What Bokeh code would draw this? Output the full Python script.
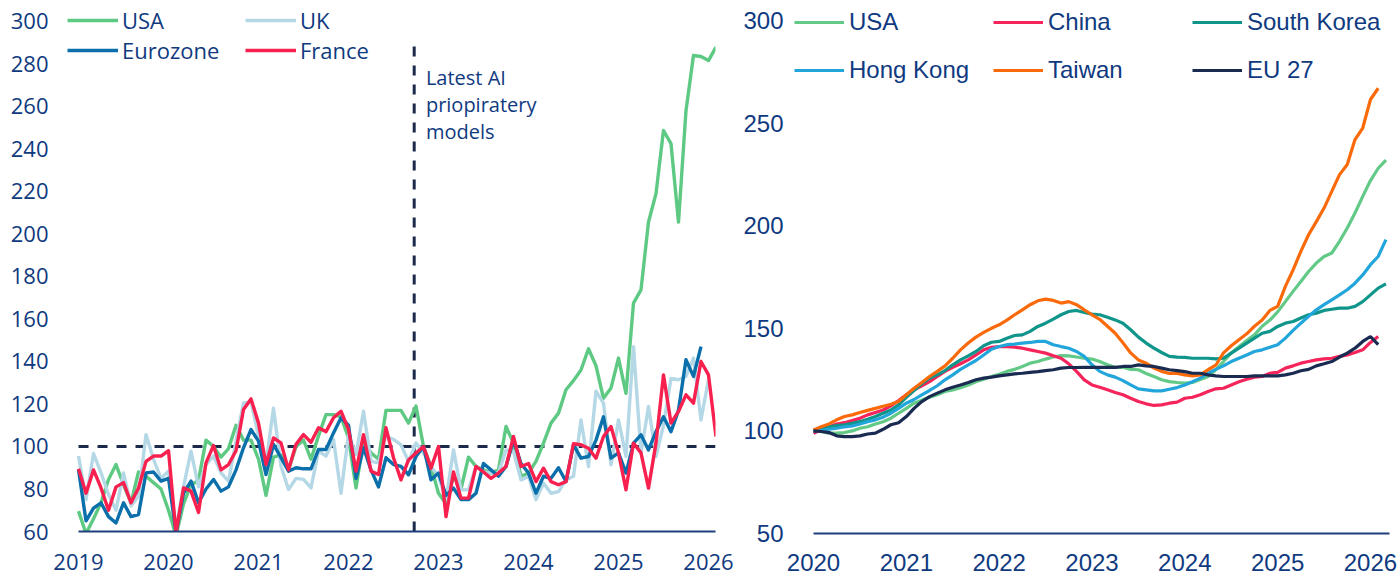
from bokeh.plotting import figure
from bokeh.layouts import row
from bokeh.models import Legend, LegendItem, Label, FixedTicker, Range1d
from bokeh.embed import file_html
from bokeh.resources import INLINE

# ---------------- data: left panel (monthly, from Jan 2019) ----------------
left_start = 2019
left_end = 2026.078
left_years = [2019, 2020, 2021, 2022, 2023, 2024, 2025, 2026]
left_year_labels = ["2019", "2020", "2021", "2022", "2023", "2024", "2025", "2026"]
left_yticks = [60, 80, 100, 120, 140, 160, 180, 200, 220, 240, 260, 280, 300]

usa_l = [69.6, 59, 66, 73.5, 84.5, 91.5, 82, 73.5, 88, 86,
         83, 80, 70, 58, 73, 82, 84, 103, 100, 95,
         99, 110, 103, 103, 94, 77, 95, 96, 89, 100,
         103, 94, 105, 115, 115, 114, 104, 80.5, 103, 97,
         94, 117, 117, 117, 111, 119, 100, 90.6, 78, 73,
         86, 80, 95, 90.6, 89, 87.5, 89, 109.4, 101.6, 86,
         87.5, 93, 101.6, 111, 115.7, 126.7, 131, 136, 146, 138,
         122.7, 127.5, 141.6, 125, 167.5, 173.7, 205.6, 219, 248.7, 242.5,
         205.6, 258, 284, 283.5, 281.6, 288]
uk_l = [95.5, 75, 96.7, 87.6, 77.4, 70, 87.6, 72, 76.6, 105.6,
        94, 85, 88.4, 61, 81, 97.8, 81, 91.5, 95.5, 87.6,
        83.7, 102.5, 120.5, 121, 105, 92.3, 118, 90.7, 79.8, 85,
        84.5, 80.5, 97.8, 95.5, 103.3, 78, 105.6, 96.2, 116.6, 93,
        92.3, 104.9, 103.3, 100.8, 93, 101.6, 97, 90.6, 86, 75,
        98.4, 79.6, 79.6, 90.6, 88, 87.5, 87.5, 98.4, 97.6, 84.3,
        86, 75, 82.7, 78, 78.8, 84.3, 86, 112.5, 90.6, 126,
        120.4, 91.4, 112.5, 95.3, 147, 97, 118.8, 95.3, 110, 132,
        131.4, 133, 141.6, 112.5, 131.4]
euro_l = [89, 65, 71, 73.5, 67, 64, 73.5, 67, 68, 87.6,
          88, 83.7, 85, 59.4, 78, 83.7, 73.5, 80, 84.5, 79,
          81, 89, 99.4, 108, 102.5, 86.8, 101, 94.7, 88.4, 90,
          89.5, 89.5, 98.6, 98.6, 106.4, 113.5, 110, 85, 99.4, 89,
          81, 94.7, 91.5, 90.6, 86.7, 95.3, 100, 84.3, 87.5, 77,
          80.4, 75, 75, 78, 92, 89, 86, 90.6, 103, 92,
          87.5, 78, 86, 85, 90, 83.5, 100.8, 94.5, 95.3, 103,
          114, 94.5, 97, 87.5, 101.6, 105.5, 98.4, 107, 114, 107,
          117, 140.8, 133, 147]
france_l = [89.5, 78, 89, 80.5, 70, 81, 83, 73.5, 80.5, 93,
            95.5, 95.5, 98, 59.4, 80.5, 79, 69, 92.3, 100.5, 89,
            91.5, 98, 117.4, 122.4, 111, 91.5, 104, 101.7, 89, 101,
            105.6, 102, 108.8, 107, 113.5, 116.6, 108, 88.4, 105.6, 88.4,
            86.8, 108.8, 94.7, 84.3, 93.7, 96.9, 100, 89.8, 100, 67,
            88, 75.7, 75.7, 90.6, 88, 85, 87.5, 90.6, 104.7, 90.6,
            92, 83.5, 89.8, 83.5, 82, 83.5, 101.3, 100.8, 99.2, 94.5,
            104.7, 109.4, 97, 79.6, 101.6, 97, 80.4, 101.6, 133.7, 111,
            116.5, 124.3, 120.4, 140, 133.7, 104.7]
baseline_level = 100
ai_release = 2022.73
ai_line_top = 290
annotation_text = "Latest AI\npriopiratery\nmodels"

# ---------------- data: right panel (monthly, from Jan 2020) ----------------
right_start = 2020
right_end = 2026.205
right_years = [2020, 2021, 2022, 2023, 2024, 2025, 2026]
right_year_labels = ["2020", "2021", "2022", "2023", "2024", "2025", "2026"]
right_yticks = [50, 100, 150, 200, 250, 300]

usa_r = [100, 99.7, 98.9, 98.9, 99.2, 100, 101.3, 102, 103.4, 104.5,
         106.2, 108.6, 111, 113.5, 115, 116.4, 117.6, 119.2, 120, 121,
         122.4, 124, 125.2, 126.5, 127.6, 129, 130, 131.4, 133, 133.8,
         135, 136, 136.7, 136.6, 136, 135.4, 135, 133.8, 132.2, 131,
         131, 130, 129.8, 128, 126.5, 124.9, 124, 123.6, 123.3, 123.6,
         125, 126.5, 129.8, 133.8, 138, 141, 144, 146.8, 151, 154,
         158, 163, 168, 172.8, 177.7, 181.8, 185, 186.7, 192.4, 198.9,
         206.2, 214.3, 222, 228, 232]
china_r = [98.9, 100.5, 102, 103.3, 104, 105, 106.2, 107.8, 109, 110.2,
           112.2, 114.8, 117.6, 120, 122, 124, 126.5, 129, 131, 132.7,
           134.6, 137, 139.5, 140.7, 141.1, 141.1, 140.8, 140.3, 139.5, 138.7,
           137.9, 136.6, 135.4, 132.7, 129, 124.9, 122.4, 121.3, 120, 118.7,
           117.6, 115.9, 114.3, 113.2, 112.4, 112.7, 113.5, 114, 115.9, 116.4,
           117.6, 119.2, 120.5, 120.8, 122.4, 124, 125.2, 126.2, 126.5, 128.1,
           128.5, 130.6, 131.7, 133, 133.8, 134.6, 135.1, 135.4, 136.3, 137,
           138.2, 139.5, 143.1, 146]
korea_r = [100, 100.8, 102, 102.6, 103, 103.7, 104.5, 105.7, 107, 108.6,
           110.2, 112.7, 116.4, 119.7, 123, 125.7, 127.3, 129.4, 132.2, 134.6,
           136.6, 138.7, 141.5, 143.2, 143.6, 145.2, 146.5, 146.8, 148.5, 150.9,
           152.5, 154.5, 156.6, 158.2, 158.7, 157.7, 156.9, 156.6, 155.4, 154.1,
           152.5, 149.3, 145.7, 142.8, 140.3, 138.2, 136.3, 136, 135.8, 135.4,
           135.4, 135.4, 135.1, 135.4, 137.9, 140.3, 142.8, 145.2, 147.6, 148.5,
           150.9, 152.5, 153.3, 155, 156.6, 157.4, 158.7, 159.3, 159.8, 159.8,
           160.7, 163, 166.3, 169.6, 171.7]
hk_r = [100, 100.2, 100.8, 101.3, 102, 102.4, 103.4, 104.5, 105.4, 106.7,
        108.6, 111, 113.5, 115.3, 117.6, 119.7, 122, 124.9, 127.3, 130,
        132.2, 134.3, 137, 139.8, 141.1, 142, 142.3, 142.8, 143.1, 143.6,
        143.6, 142, 141.1, 140.3, 138.7, 136.3, 132.2, 129, 127.3, 126.2,
        124.5, 122.4, 120.5, 120, 119.5, 119.5, 120.3, 121.1, 122.4, 124,
        125.7, 128.1, 130, 131.7, 133.8, 135.4, 137, 138.7, 139.5, 140.8,
        142, 145.2, 149, 152.5, 155.8, 159, 161.5, 163.9, 166.3, 168.8,
        172, 176, 181, 185, 193.2]
taiwan_r = [100.5, 102, 103.4, 105.4, 107, 107.8, 109, 110, 111, 112,
            113, 114.3, 117.6, 120.8, 123.6, 126.5, 129, 131.7, 135.4, 139.5,
            142.8, 145.7, 148, 150, 151.7, 154, 156.6, 159, 161.5, 163.4,
            164.2, 163.6, 162.3, 163, 161.5, 159, 156.6, 154.4, 151, 147.6,
            143, 138, 134.6, 133, 130.6, 129, 128, 128, 127.3, 126.8,
            127.3, 129.8, 132, 138, 141.5, 144.4, 147.3, 151, 154, 158.7,
            160.7, 170.4, 178.5, 187.5, 195.6, 202, 208.6, 216.7, 224.9, 229.8,
            242, 247.6, 261.5, 267]
eu_r = [100, 99.7, 99.2, 97.6, 97.2, 97.2, 97.6, 98.5, 98.9, 100.8,
        103, 104, 107, 111, 114.3, 116.7, 118.4, 120, 121.3, 122.4,
        123.6, 124.9, 125.7, 126.2, 126.8, 127.3, 127.8, 128.1, 128.5, 128.9,
        129.4, 129.8, 130.6, 130.9, 130.9, 131, 131, 131, 131, 131,
        131.4, 131.4, 132.2, 131.7, 131.4, 130.6, 129.8, 129.4, 128.9, 128.1,
        128.1, 127.3, 126.8, 126.5, 126.5, 126.5, 126.5, 126.8, 126.8, 126.8,
        126.8, 127.3, 128.1, 129.3, 130, 131.7, 132.7, 133.8, 136, 137.9,
        140.3, 143.6, 146, 142]


def months(start, n):
    return [start + i / 12 for i in range(n)]


NAVY = "#1B2A4A"
TXT = "#0F3A80"
AXIS = "#1F3F7A"


def style(p, font, size, xt, xl, yt, xstand, ystand, bounds):
    p.outline_line_color = None
    p.background_fill_color = "white"
    p.border_fill_color = "white"
    p.xgrid.visible = False
    p.ygrid.visible = False
    p.xaxis.ticker = FixedTicker(ticks=xt)
    p.xaxis.major_label_overrides = {t: l for t, l in zip(xt, xl)}
    p.xaxis.bounds = bounds
    p.yaxis.ticker = FixedTicker(ticks=yt)
    for ax in (p.xaxis, p.yaxis):
        ax.major_tick_line_color = None
        ax.minor_tick_line_color = None
        ax.major_tick_out = 0
        ax.major_tick_in = 0
        ax.major_label_text_font = font
        ax.major_label_text_font_size = size
        ax.major_label_text_color = TXT
    p.xaxis.axis_line_color = AXIS
    p.xaxis.axis_line_width = 2
    p.yaxis.axis_line_color = None
    p.xaxis.major_label_standoff = xstand
    p.yaxis.major_label_standoff = ystand


# ---------------- left figure ----------------
p1 = figure(frame_width=653, frame_height=531,
            x_range=Range1d(2018.822, left_end), y_range=Range1d(60, 309.88),
            output_backend="svg", toolbar_location=None,
            min_border_left=62, min_border_right=25, min_border_top=0, min_border_bottom=47)
style(p1, "Open Sans", "22px", left_years, left_year_labels, left_yticks, 22, 14,
      (left_start, left_end))

p1.segment(x0=[left_start], y0=[baseline_level], x1=[left_end], y1=[baseline_level],
           line_color=NAVY, line_width=3, line_dash="10 9")
p1.segment(x0=[ai_release], y0=[60], x1=[ai_release], y1=[ai_line_top],
           line_color=NAVY, line_width=3, line_dash="10 9")

lw = 3.4
r_usa = p1.line(months(left_start, len(usa_l)), usa_l, line_color="#5DC983", line_width=lw, line_join="round")
r_uk = p1.line(months(left_start, len(uk_l)), uk_l, line_color="#B5D8E6", line_width=lw, line_join="round")
r_eu = p1.line(months(left_start, len(euro_l)), euro_l, line_color="#0A6FAA", line_width=lw, line_join="round")
r_fr = p1.line(months(left_start, len(france_l)), france_l, line_color="#F8204F", line_width=lw, line_join="round")

p1.add_layout(Label(x=2022.86, y=280, text=annotation_text, text_font="Open Sans",
                    text_font_size="20px", text_color=TXT, text_baseline="top",
                    text_line_height=1.0))

leg1 = Legend(items=[LegendItem(label="USA", renderers=[r_usa]),
                     LegendItem(label="UK", renderers=[r_uk]),
                     LegendItem(label="Eurozone", renderers=[r_eu]),
                     LegendItem(label="France", renderers=[r_fr])],
              location=(5, 466), orientation="horizontal", ncols=2,
              glyph_width=51, glyph_height=20, label_height=20, label_width=123,
              label_standoff=4, spacing=-2, padding=0, margin=0,
              border_line_color=None, background_fill_alpha=0,
              label_text_font="Open Sans", label_text_font_size="22px", label_text_color=TXT)
p1.add_layout(leg1)

# ---------------- right figure ----------------
p2 = figure(frame_width=595, frame_height=533,
            x_range=Range1d(2019.7953, right_end), y_range=Range1d(50, 309.75),
            output_backend="svg", toolbar_location=None,
            min_border_left=52, min_border_right=11, min_border_top=0, min_border_bottom=45)
style(p2, "Liberation Sans", "24px", right_years, right_year_labels, right_yticks, 20, 11,
      (right_start, right_end))

lw2 = 3.2
rr_usa = p2.line(months(right_start, len(usa_r)), usa_r, line_color="#62C987", line_width=lw2)
rr_cn = p2.line(months(right_start, len(china_r)), china_r, line_color="#F5245A", line_width=lw2)
rr_kr = p2.line(months(right_start, len(korea_r)), korea_r, line_color="#0F958A", line_width=lw2)
rr_hk = p2.line(months(right_start, len(hk_r)), hk_r, line_color="#22A5DB", line_width=lw2)
rr_tw = p2.line(months(right_start, len(taiwan_r)), taiwan_r, line_color="#FA6A0A", line_width=lw2)
rr_eu = p2.line(months(right_start, len(eu_r)), eu_r, line_color="#1A2B52", line_width=lw2)

leg2 = Legend(items=[LegendItem(label="USA", renderers=[rr_usa]),
                     LegendItem(label="China", renderers=[rr_cn]),
                     LegendItem(label="South Korea", renderers=[rr_kr]),
                     LegendItem(label="Hong Kong", renderers=[rr_hk]),
                     LegendItem(label="Taiwan", renderers=[rr_tw]),
                     LegendItem(label="EU 27", renderers=[rr_eu])],
              location=(0, 449), orientation="horizontal", ncols=3,
              glyph_width=50, glyph_height=20, label_height=22, label_width=124,
              label_standoff=5, spacing=20, padding=0, margin=0,
              border_line_color=None, background_fill_alpha=0,
              label_text_font="Liberation Sans", label_text_font_size="24px", label_text_color=TXT)
p2.add_layout(leg2)

layout = row(p1, p2)
open("out.html", "w").write(file_html(layout, INLINE))
